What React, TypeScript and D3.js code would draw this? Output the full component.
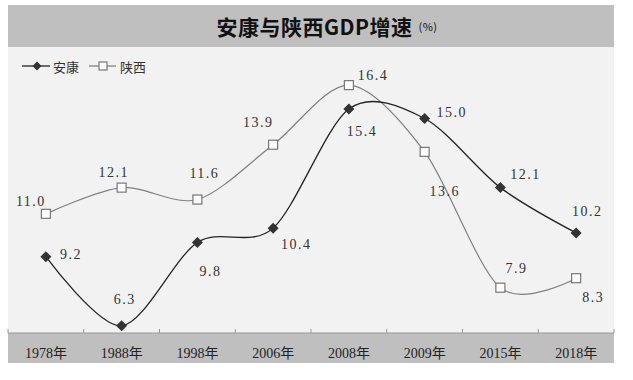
import React from "react";
import * as d3 from "d3";

const categories = ["1978年", "1988年", "1998年", "2006年", "2008年", "2009年", "2015年", "2018年"];
const ankang = [9.2, 6.3, 9.8, 10.4, 15.4, 15.0, 12.1, 10.2];
const shaanxi = [11.0, 12.1, 11.6, 13.9, 16.4, 13.6, 7.9, 8.3];
const seriesNames = ["安康", "陕西"];
const yDomain = [6, 18];

// label offsets (layout only)
const ankangLabelOffsets: [number, number][] = [
  [25, -2], [3, -26], [13, 29], [23, 16], [13, 23], [27, -6], [25, -13], [11, -21],
];
const shaanxiLabelOffsets: [number, number][] = [
  [-15, -12], [-8, -15], [7, -26], [-15, -22], [24, -10], [20, 40], [16, -19], [17, 19],
];

const W = 633;
const H = 380;
const left = 8;
const right = 614;
const plotTop = 47;
const axisY = 333;
const bandBottom = 363;
const serif = "'Liberation Serif', 'DejaVu Serif', 'Noto Sans CJK SC', serif";
const cjk = "'Noto Sans CJK SC', sans-serif";

export default function App() {
  const x = d3.scaleBand<string>().domain(categories).range([left, right]);
  const cx = (c: string) => (x(c) as number) + x.bandwidth() / 2;
  const y = d3.scaleLinear().domain(yDomain).range([axisY, plotTop]);
  const line = d3
    .line<number>()
    .x((_, i) => cx(categories[i]))
    .y((d) => y(d))
    .curve(d3.curveCardinal.tension(0.1));

  const diamond = (px: number, py: number, r = 5) =>
    `M${px},${py - r}L${px + r},${py}L${px},${py + r}L${px - r},${py}Z`;

  const fmt = (v: number) => v.toFixed(1);

  return (
    <svg width={W} height={H} style={{ position: "absolute", left: 0, top: 0, background: "#fff" }}>
      {/* title band */}
      <rect x={left} y={5} width={right - left} height={plotTop - 5} fill="#bfbfbf" />
      <text x={327} y={26} textAnchor="middle" dominantBaseline="central" fontFamily={cjk} fontWeight="bold" fontSize={21} fill="#111" letterSpacing={0.5}>
        安康与陕西GDP增速
        <tspan fontSize={11} fontWeight="normal" dx={6}>(%)</tspan>
      </text>
      {/* plot background */}
      <rect x={left} y={plotTop} width={right - left} height={axisY - plotTop} fill="#f2f2f2" />
      {/* axis band */}
      <rect x={left} y={axisY} width={right - left} height={bandBottom - axisY} fill="#bfbfbf" />
      <line x1={left} x2={right} y1={axisY} y2={axisY} stroke="#999" strokeWidth={1} />
      {d3.range(categories.length + 1).map((i) => {
        const tx = left + i * x.bandwidth();
        return <line key={i} x1={tx} x2={tx} y1={axisY - 4} y2={axisY} stroke="#999" strokeWidth={1} />;
      })}
      {categories.map((c) => (
        <text key={c} x={cx(c)} y={353} textAnchor="middle" dominantBaseline="central" fontFamily={serif} fontSize={14} fill="#222">
          {c}
        </text>
      ))}

      {/* legend */}
      <line x1={22} x2={50} y1={66} y2={66} stroke="#222" strokeWidth={1.3} />
      <path d={diamond(37, 66, 4.5)} fill="#333" />
      <text x={53} y={66} dominantBaseline="central" fontFamily={cjk} fontSize={13} fill="#333">{seriesNames[0]}</text>
      <line x1={89} x2={116} y1={66} y2={66} stroke="#777" strokeWidth={1.2} />
      <rect x={99} y={62} width={8} height={8} fill="#fff" stroke="#777" strokeWidth={1.2} />
      <text x={120} y={66} dominantBaseline="central" fontFamily={cjk} fontSize={13} fill="#333">{seriesNames[1]}</text>

      {/* lines */}
      <path d={line(shaanxi) as string} fill="none" stroke="#808080" strokeWidth={1.2} />
      <path d={line(ankang) as string} fill="none" stroke="#222" strokeWidth={1.3} />

      {/* markers */}
      {shaanxi.map((v, i) => (
        <rect key={"s" + i} x={cx(categories[i]) - 4.5} y={y(v) - 4.5} width={9} height={9} fill="#fff" stroke="#777" strokeWidth={1.2} />
      ))}
      {ankang.map((v, i) => (
        <path key={"a" + i} d={diamond(cx(categories[i]), y(v), 5.5)} fill="#333" />
      ))}

      {/* labels */}
      {ankang.map((v, i) => (
        <text key={"al" + i} x={cx(categories[i]) + ankangLabelOffsets[i][0]} y={y(v) + ankangLabelOffsets[i][1]} textAnchor="middle" dominantBaseline="central" fontFamily={serif} fontSize={14} fill="#333" letterSpacing={1.5}>
          {fmt(v)}
        </text>
      ))}
      {shaanxi.map((v, i) => (
        <text key={"sl" + i} x={cx(categories[i]) + shaanxiLabelOffsets[i][0]} y={y(v) + shaanxiLabelOffsets[i][1]} textAnchor="middle" dominantBaseline="central" fontFamily={serif} fontSize={14} fill="#333" letterSpacing={1.5}>
          {fmt(v)}
        </text>
      ))}
    </svg>
  );
}
